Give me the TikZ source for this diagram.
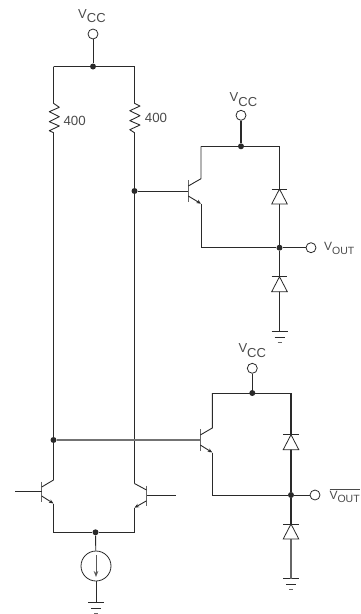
\documentclass[tikz,border=0pt]{standalone}
\usepackage{fontspec}
\setmainfont{Liberation Sans}
\usetikzlibrary{arrows.meta}
\definecolor{wire}{HTML}{2A2A2A}
\definecolor{lbl}{HTML}{4A4A4A}
\newcommand{\vccx}{V\raisebox{-4.4pt}{CC}}
\newcommand{\voutx}{V\raisebox{-3.4pt}{\fontsize{10.5}{12}\selectfont OUT}}
\tikzset{
  x=1pt,y=-1pt,
  wirepath/.style={draw=wire,line width=0.9pt},
  greywire/.style={draw=black!55,line width=1.2pt},
  barline/.style={draw=black!60,line width=1.1pt},
  juncdot/.style={circle,fill=wire,draw=none,minimum size=6pt,inner sep=0pt},
  terminal/.style={circle,draw=wire,fill=white,line width=0.8pt,minimum size=10pt,inner sep=0pt},
  source/.style={circle,draw=wire,fill=white,line width=0.8pt,minimum size=30pt,inner sep=0pt},
  lab/.style={text=lbl,inner sep=0pt,anchor=base west,font=\fontsize{13}{15}\selectfont},
  outlab/.style={text=lbl,inner sep=0pt,anchor=base west,font=\fontsize{12}{14}\selectfont},
  numlab/.style={text=lbl,inner sep=0pt,anchor=base west,font=\fontsize{13.3}{15}\selectfont},
  diodeshape/.style={draw=wire,fill=white,line width=0.8pt,line join=miter},
  emit/.style={wirepath,-{Stealth[length=4.6pt,width=3.8pt]}}
}
\newcommand{\gnd}[3]{% x, y, name
  \coordinate (#3) at (#1,#2);
  \draw[wirepath] (#1-8,#2) -- (#1+8,#2);
  \draw[wirepath,line width=0.7pt] (#1-5,#2+5.4) -- (#1+5,#2+5.4);
  \draw[wirepath,draw=black!60,line width=0.8pt] (#1-2,#2+10.6) -- (#1+2,#2+10.6);
}
\newcommand{\diodeup}[2]{% x, bar y
  \draw[diodeshape] (#1,#2) -- (#1-7.8,#2+15) -- (#1+7.8,#2+15) -- cycle;
  \draw[wirepath] (#1-7.8,#2) -- (#1+7.8,#2);
}
\begin{document}
\begin{tikzpicture}
\useasboundingbox (0,0) rectangle (361,614);

% --- first stage: supply and resistors
\node[terminal] (T1) at (93,34) {};
\node[lab] (L1) at (78,18.3) {\vccx};
\node[juncdot] (D1) at (93,66.5) {};
\coordinate (RLt) at (53.5,66.5);
\coordinate (RRt) at (134.5,66.5);
\draw[wirepath] (T1) -- (D1);
\draw[wirepath] (RLt) -- (RRt);
\draw[wirepath,line join=round] (RLt) -- (53.5,103.3) -- (59.3,107.3) -- (49.3,111.7) -- (59.3,116.7) -- (49.3,121.7) -- (59.3,126) -- (49.3,130.7) -- (53.5,132.7) -- (53.5,480) coordinate (Q1c);
\draw[wirepath,line join=round] (RRt) -- (134.5,103.3) -- (140,106) -- (129.8,110.7) -- (140,115.7) -- (129.8,120.7) -- (140,125) -- (129.8,129.7) -- (134.5,132.7) -- (134.5,483.5) coordinate (Q2c);
\node[numlab] (N1) at (63.3,125) {400};
\node[numlab] (N2) at (144.7,122) {400};
\node[juncdot] (D2) at (134.5,191) {};
\node[juncdot] (D3) at (53.5,440) {};

% --- differential pair
\coordinate (Q1in) at (15,491.3);
\coordinate (Q1b) at (41.7,491.3);
\coordinate (Q2in) at (175.5,495.3);
\coordinate (Q2b) at (146.5,495.3);
\draw[barline] (41.7,481.7) -- (41.7,502);
\draw[barline] (146.5,485.7) -- (146.5,506);
\draw[wirepath] (Q1in) -- (Q1b);
\draw[wirepath] (Q2in) -- (Q2b);
\draw[wirepath] (Q1c) -- (41.7,487);
\draw[wirepath] (Q2c) -- (146.5,490);
\coordinate (Q1e) at (53.5,503.5);
\coordinate (Q2e) at (134.5,507.7);
\draw[emit] (41.7,496) -- (Q1e);
\draw[emit] (146.5,500.8) -- (Q2e);
\node[juncdot] (D4) at (95.5,532.3) {};
\draw[wirepath] (Q1e) |- (D4);
\draw[wirepath] (Q2e) |- (D4);
\node[source] (S) at (96,566) {};
\draw[wirepath] (D4) -- (S);
\coordinate (Sa) at (96,555);
\coordinate (Sb) at (96,577);
\draw[draw=black!65,line width=1pt,-{Stealth[length=6pt,width=4.6pt]}] (Sa) -- (Sb);
\gnd{96}{602.5}{G0}
\draw[wirepath] (S) -- (G0);

% --- upper output stage
\node[terminal] (T2) at (241,115.3) {};
\node[lab] (L2) at (229.5,101.7) {\vccx};
\node[juncdot] (D5) at (241,146.3) {};
\draw[wirepath,line width=1.1pt] (T2) -- (D5);
\coordinate (UL) at (201,146.3);
\coordinate (UR) at (279.5,146.3);
\draw[wirepath] (UL) -- (UR);
\coordinate (Q3b) at (188.3,190.7);
\draw[wirepath] (D2) -- (D2 -| Q3b);
\draw[barline] (188.3,180) -- (188.3,201.7);
\draw[wirepath] (UL) -- (201,178.7) -- (188.3,186);
\coordinate (Q3e) at (201,203.7);
\draw[emit] (188.3,196) -- (Q3e);
\node[juncdot] (D6) at (279.5,247.7) {};
\draw[wirepath] (Q3e) |- (D6);
\node[terminal] (T3) at (311,247.7) {};
\draw[wirepath] (D6) -- (T3);
\node[outlab] (L3) at (324,250.7) {\voutx};
\gnd{279.5}{331.7}{G1}
\draw[wirepath] (UR) -- (D6);
\draw[wirepath] (D6) -- (G1);
\diodeup{279.5}{189}
\diodeup{279.5}{276.7}

% --- lower output stage
\node[terminal] (T4) at (252.3,368.3) {};
\node[lab] (L4) at (238.3,352.7) {\vccx};
\node[juncdot] (D7) at (252.3,393) {};
\draw[wirepath] (T4) -- (D7);
\coordinate (LL) at (212.3,393);
\coordinate (LR) at (291,393);
\draw[wirepath] (LL) -- (LR);
\coordinate (Q4b) at (200.3,440);
\draw[greywire] (D3) -- (Q4b);
\draw[barline] (200.3,429) -- (200.3,450.7);
\draw[wirepath] (LL) -- (212.3,428) -- (200.3,435);
\coordinate (Q4e) at (212.3,452.5);
\draw[emit] (200.3,445) -- (Q4e);
\node[juncdot] (D8) at (291,495) {};
\draw[wirepath] (Q4e) |- (D8);
\node[terminal] (T5) at (315,495) {};
\draw[wirepath] (D8) -- (T5);
\node[outlab] (L5) at (329.3,499) {$\overline{\hbox{\voutx}}$};
\gnd{291}{578.7}{G2}
\draw[wirepath,line width=1.2pt] (LR) -- (D8);
\draw[wirepath,line width=1.2pt] (D8) -- (291,539);
\draw[draw=black!60,line width=1.1pt] (291,539) -- (G2);
\diodeup{291}{434.7}
\diodeup{291}{524}
\end{tikzpicture}
\end{document}
